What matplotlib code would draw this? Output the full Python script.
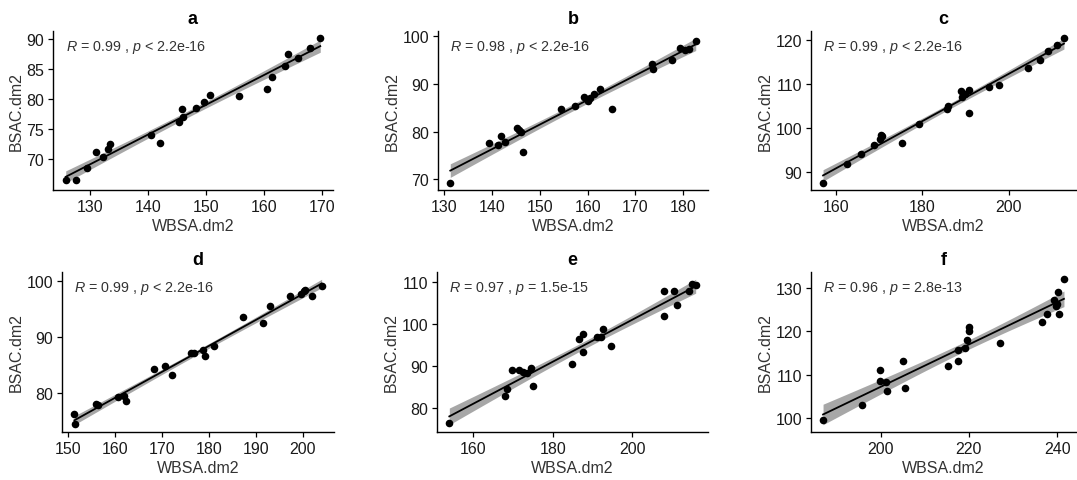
import numpy as np
import matplotlib
matplotlib.use("Agg")
import matplotlib.pyplot as plt

plt.rcParams['font.family'] = ['Liberation Sans', 'DejaVu Sans']
plt.rcParams['mathtext.fontset'] = 'custom'
plt.rcParams['mathtext.rm'] = 'Liberation Sans'
plt.rcParams['mathtext.it'] = 'Liberation Sans:italic'

# ---- data ----
a_x = [125.8, 127.5, 129.4, 131.0, 132.2, 133.1, 133.5, 140.5, 142.0, 145.4, 145.8, 146.0,
       148.3, 149.6, 150.6, 155.6, 160.5, 161.4, 163.7, 164.2, 165.9, 167.9, 169.7]
a_y = [66.5, 66.6, 68.5, 71.3, 70.4, 71.7, 72.5, 74.0, 72.8, 76.3, 78.4, 77.0,
       78.5, 79.6, 80.8, 80.6, 81.7, 83.7, 85.5, 87.5, 86.9, 88.6, 90.2]

b_x = [131.3, 139.3, 141.3, 141.8, 142.8, 145.3, 145.7, 146.1, 146.4, 154.5, 157.3, 159.3,
       160.1, 160.6, 161.4, 162.6, 165.2, 173.4, 173.7, 177.6, 179.4, 180.3, 181.1, 182.6]
b_y = [69.3, 77.5, 77.2, 79.0, 77.9, 80.8, 80.3, 79.9, 75.7, 84.6, 85.4, 87.3,
       86.3, 86.9, 87.8, 88.8, 84.7, 94.0, 93.0, 95.0, 97.4, 97.1, 97.3, 98.9]

c_x = [157.0, 162.5, 165.9, 168.9, 170.1, 170.5, 170.6, 175.2, 179.3, 185.6, 186.0, 188.9,
       189.1, 189.8, 190.7, 190.9, 195.5, 197.7, 204.5, 207.2, 209.2, 211.3, 212.8]
c_y = [87.6, 91.9, 94.2, 96.1, 97.5, 98.4, 98.1, 96.6, 100.9, 104.2, 104.9, 108.4,
       107.0, 107.7, 103.3, 108.7, 109.4, 109.7, 113.7, 115.5, 117.5, 118.9, 120.3]

d_x = [151.3, 151.5, 155.9, 156.3, 160.6, 161.9, 162.2, 168.3, 170.6, 172.2, 176.2, 176.9,
       178.7, 179.2, 181.1, 187.3, 191.5, 193.0, 197.2, 199.6, 200.2, 200.5, 202.0, 204.0]
d_y = [76.3, 74.5, 78.0, 77.8, 79.3, 79.4, 78.6, 84.3, 84.9, 83.3, 87.1, 87.1,
       87.7, 86.6, 88.3, 93.5, 92.5, 95.6, 97.3, 97.6, 98.2, 98.4, 97.3, 99.0]

e_x = [154.0, 168.0, 168.5, 169.7, 171.5, 172.6, 173.4, 174.4, 175.1, 184.8, 186.7, 187.6,
       187.7, 191.0, 192.2, 192.7, 194.5, 208.0, 208.0, 210.4, 211.2, 214.1, 215.0, 215.9]
e_y = [76.5, 82.9, 84.6, 89.1, 89.1, 88.6, 88.2, 89.4, 85.3, 90.5, 96.3, 97.7,
       93.3, 96.9, 97.0, 98.8, 94.7, 107.8, 101.9, 107.8, 104.6, 107.8, 109.6, 109.2]

f_x = [187.0, 195.8, 199.8, 199.8, 201.2, 201.5, 205.0, 205.6, 215.3, 217.5, 217.5, 219.2,
       219.5, 220.0, 220.0, 227.0, 236.5, 237.6, 239.3, 239.6, 239.9, 240.1, 240.3, 241.5]
f_y = [99.6, 103.0, 111.1, 108.7, 108.3, 106.3, 113.2, 106.9, 112.1, 115.6, 113.2, 116.1,
       117.9, 120.9, 120.0, 117.4, 122.1, 124.0, 127.1, 125.8, 126.3, 129.0, 124.0, 131.9]

titles = ['a', 'b', 'c', 'd', 'e', 'f']
stats = ['0.99 , $p$ < 2.2e-16', '0.98 , $p$ < 2.2e-16', '0.99 , $p$ < 2.2e-16',
         '0.99 , $p$ < 2.2e-16', '0.97 , $p$ = 1.5e-15', '0.96 , $p$ = 2.8e-13']
xticks = [[130, 140, 150, 160, 170], [130, 140, 150, 160, 170, 180], [160, 180, 200],
          [150, 160, 170, 180, 190, 200], [160, 180, 200], [200, 220, 240]]
yticks = [[70, 75, 80, 85, 90], [70, 80, 90, 100], [90, 100, 110, 120],
          [80, 90, 100], [80, 90, 100, 110], [100, 110, 120, 130]]
datasets = [(a_x, a_y), (b_x, b_y), (c_x, c_y), (d_x, d_y), (e_x, e_y), (f_x, f_y)]

W, H = 1077, 481
fig = plt.figure(figsize=(W / 100, H / 100), dpi=100)

# axes boxes in pixels: left, right, top, bottom
boxes = [(53, 333, 32, 191), (438, 708, 32, 191), (811, 1076, 32, 191),
         (62, 334, 273, 433), (437, 708, 273, 433), (811, 1076, 273, 433)]

txt_col = '#1a1a1a'
for i, (xs, ys) in enumerate(datasets):
    l, r, t, b = boxes[i]
    ax = fig.add_axes([l / W, 1 - b / H, (r - l) / W, (b - t) / H])
    x = np.array(xs)
    y = np.array(ys)
    n = len(x)
    slope, inter = np.polyfit(x, y, 1)
    xg = np.linspace(x.min(), x.max(), 80)
    yg = inter + slope * xg
    resid = y - (inter + slope * x)
    s = np.sqrt(np.sum(resid ** 2) / (n - 2))
    se = s * np.sqrt(1 / n + (xg - x.mean()) ** 2 / np.sum((x - x.mean()) ** 2))
    tcrit = 2.07
    lo, hi = yg - tcrit * se, yg + tcrit * se
    ax.fill_between(xg, lo, hi, color='#9e9e9e', alpha=0.9, lw=0, zorder=1)
    ax.plot(xg, yg, color='black', lw=1.3, zorder=2)
    ax.scatter(x, y, s=30, color='black', zorder=3, linewidths=0)
    xr = x.max() - x.min()
    ax.set_xlim(x.min() - 0.05 * xr, x.max() + 0.05 * xr)
    ymin = min(y.min(), lo.min())
    ymax = max(y.max(), hi.max())
    yr = ymax - ymin
    ax.set_ylim(ymin - 0.05 * yr, ymax + 0.05 * yr)
    ax.set_xticks(xticks[i])
    ax.set_yticks(yticks[i])
    for sp in ['top', 'right']:
        ax.spines[sp].set_visible(False)
    for sp in ['left', 'bottom']:
        ax.spines[sp].set_linewidth(1.0)
        ax.spines[sp].set_color('black')
    ax.tick_params(axis='both', labelsize=11.5, colors='black', labelcolor=txt_col,
                   length=3.5, width=0.9, pad=3)
    ax.set_xlabel('WBSA.dm2', fontsize=11.5, color='#333333', labelpad=3)
    ax.set_ylabel('BSAC.dm2', fontsize=11.5, color='#333333', labelpad=2)
    ax.set_title(titles[i], fontsize=13, fontweight='bold', pad=6)
    ax.text(0.045, 0.9, '$R$ = ' + stats[i], transform=ax.transAxes, fontsize=10.3,
            color='#333333', ha='left', va='center')

fig.savefig('out.png', dpi=100)
